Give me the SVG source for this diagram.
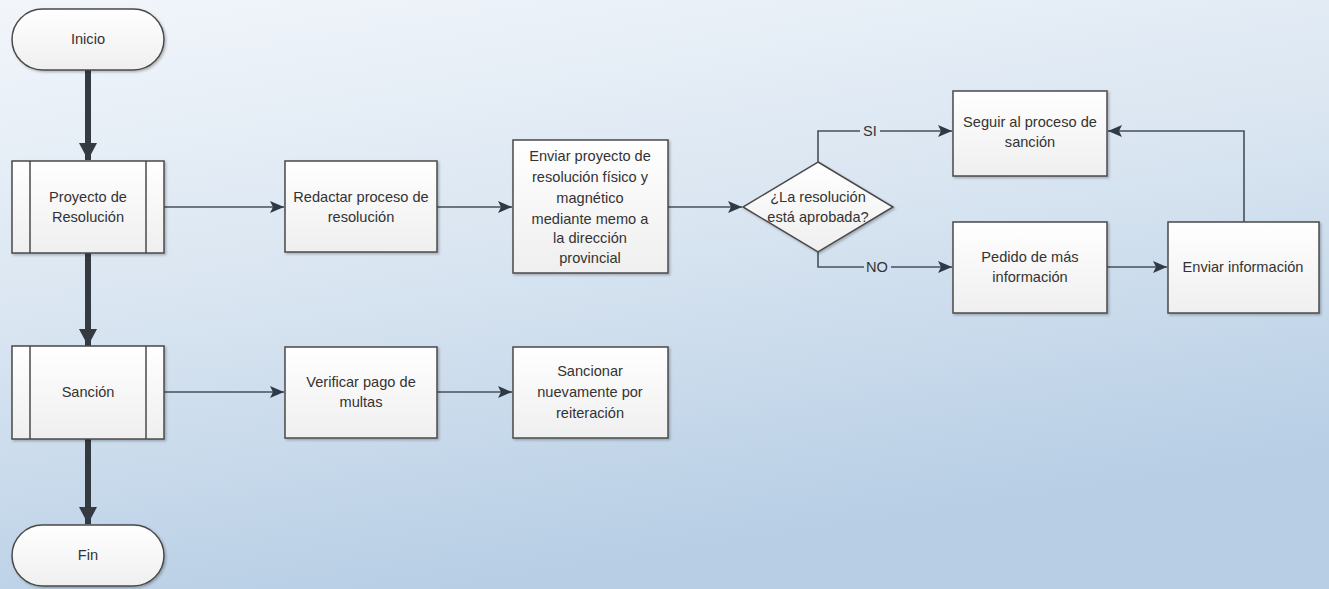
<svg xmlns="http://www.w3.org/2000/svg" width="1329" height="589" viewBox="0 0 1329 589">
<defs>
<linearGradient id="bg" x1="0" y1="0" x2="0.35" y2="1">
<stop offset="0" stop-color="#f2f6fb"/>
<stop offset="0.5" stop-color="#d9e5f1"/>
<stop offset="1" stop-color="#b7cee5"/>
</linearGradient>
<linearGradient id="box" x1="0" y1="0" x2="0" y2="1">
<stop offset="0" stop-color="#ffffff"/>
<stop offset="1" stop-color="#efefef"/>
</linearGradient>
<filter id="sh" x="-10%" y="-10%" width="130%" height="130%">
<feDropShadow dx="1.5" dy="1.5" stdDeviation="1.2" flood-color="#000" flood-opacity="0.25"/>
</filter>
<marker id="thin" markerWidth="14" markerHeight="12" refX="14" refY="6" orient="auto" markerUnits="userSpaceOnUse">
<path d="M0,0 L14,6 L0,12 L3,6 Z" fill="#2f3a46"/>
</marker>
<marker id="thick" markerWidth="18" markerHeight="18" refX="17" refY="9" orient="auto" markerUnits="userSpaceOnUse">
<path d="M0,0 L17,9 L0,18 Z" fill="#333a42"/>
</marker>
<style>
.n{fill:url(#box);stroke:#4a4a4a;stroke-width:1.5;filter:url(#sh)}
.in{stroke:#4a4a4a;stroke-width:1.5}
.t{font-family:"Liberation Sans",Arial,sans-serif;font-size:14.6px;fill:#333;text-anchor:middle}
.c{fill:none;stroke:#46505b;stroke-width:1.6}
.ca{fill:none;stroke:#46505b;stroke-width:1.6;marker-end:url(#thin)}
.k{fill:none;stroke:#333a42;stroke-width:6;marker-end:url(#thick)}
</style>
</defs>
<rect width="1329" height="589" fill="url(#bg)"/>

<g id="connectors">
<path class="k" d="M88,70 V160"/>
<path class="k" d="M88,253 V346"/>
<path class="k" d="M88,439 V524"/>
<path class="ca" d="M164,207 H284"/>
<path class="ca" d="M437,207 H512"/>
<path class="ca" d="M668,207 H742"/>
<path class="c" d="M818,162 V131 H860"/>
<path class="ca" d="M880,131 H952"/>
<text class="t" x="870" y="136">SI</text>
<path class="c" d="M818,252 V267 H864"/>
<path class="ca" d="M891,267 H952"/>
<text class="t" x="877" y="272">NO</text>
<path class="ca" d="M1107,267 H1167"/>
<path class="ca" d="M1244,222 V131 H1108"/>
<path class="ca" d="M164,392 H284"/>
<path class="ca" d="M437,392 H512"/>
</g>

<g id="inicio">
<rect class="n" x="12" y="9" width="152" height="61" rx="30.5"/>
<text class="t" x="88" y="44">Inicio</text>
</g>

<g id="proyecto">
<rect class="n" x="12" y="161" width="152" height="92"/>
<line class="in" x1="30" y1="161" x2="30" y2="253"/>
<line class="in" x1="146" y1="161" x2="146" y2="253"/>
<text class="t" x="88" y="202">Proyecto de</text>
<text class="t" x="88" y="222">Resolución</text>
</g>

<g id="sancion">
<rect class="n" x="12" y="346" width="152" height="93"/>
<line class="in" x1="30" y1="346" x2="30" y2="439"/>
<line class="in" x1="146" y1="346" x2="146" y2="439"/>
<text class="t" x="88" y="397">Sanción</text>
</g>

<g id="fin">
<rect class="n" x="12" y="525" width="152" height="61" rx="30.5"/>
<text class="t" x="88" y="560">Fin</text>
</g>

<g id="redactar">
<rect class="n" x="285" y="161" width="152" height="91"/>
<text class="t" x="361" y="202">Redactar proceso de</text>
<text class="t" x="361" y="222">resolución</text>
</g>

<g id="enviar-proyecto">
<rect class="n" x="513" y="140" width="155" height="133"/>
<text class="t" x="590" y="161">Enviar proyecto de</text>
<text class="t" x="590" y="182">resolución físico y</text>
<text class="t" x="590" y="203">magnético</text>
<text class="t" x="590" y="224">mediante memo a</text>
<text class="t" x="590" y="243">la dirección</text>
<text class="t" x="590" y="263">provincial</text>
</g>

<g id="decision">
<polygon class="n" points="818,162 893,207 818,252 743,207"/>
<text class="t" x="818" y="202">¿La resolución</text>
<text class="t" x="818" y="222">está aprobada?</text>
</g>

<g id="seguir">
<rect class="n" x="953" y="91" width="154" height="85"/>
<text class="t" x="1030" y="127">Seguir al proceso de</text>
<text class="t" x="1030" y="147">sanción</text>
</g>

<g id="pedido">
<rect class="n" x="953" y="222" width="154" height="91"/>
<text class="t" x="1030" y="262">Pedido de más</text>
<text class="t" x="1030" y="282">información</text>
</g>

<g id="enviar-info">
<rect class="n" x="1168" y="222" width="151" height="91"/>
<text class="t" x="1243" y="272">Enviar información</text>
</g>

<g id="verificar">
<rect class="n" x="285" y="347" width="152" height="91"/>
<text class="t" x="361" y="387">Verificar pago de</text>
<text class="t" x="361" y="407">multas</text>
</g>

<g id="sancionar">
<rect class="n" x="513" y="347" width="155" height="91"/>
<text class="t" x="590" y="376">Sancionar</text>
<text class="t" x="590" y="397">nuevamente por</text>
<text class="t" x="590" y="418">reiteración</text>
</g>
</svg>
